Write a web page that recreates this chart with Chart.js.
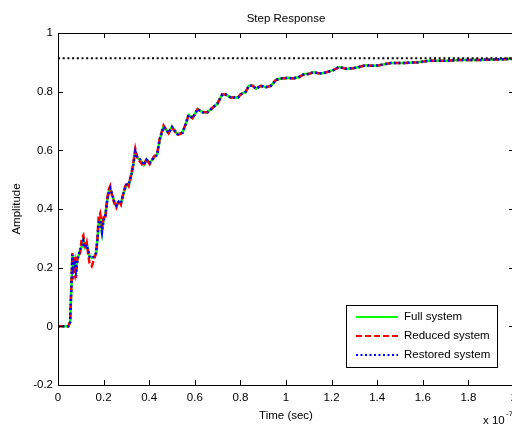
<!DOCTYPE html>
<html>
<head>
<meta charset="utf-8">
<script src="https://cdn.jsdelivr.net/npm/chart.js@4.4.1/dist/chart.umd.min.js"></script>
<style>
  html, body { margin: 0; padding: 0; background: #fff; overflow: hidden; }
  #wrap { width: 512px; height: 425px; overflow: hidden; }
</style>
</head>
<body>
<div id="wrap"><canvas id="chart-area" width="514" height="425"></canvas></div>

<script>
    // time axis in units of 1e-7 s
    var timeVals = [
        0, 0.045, 0.053, 0.060, 0.063, 0.067, 0.075, 0.079, 0.085, 0.097,
        0.104, 0.111, 0.119, 0.126, 0.138, 0.148, 0.159, 0.167, 0.173, 0.178,
        0.185, 0.193, 0.200, 0.207, 0.215, 0.222, 0.229, 0.237, 0.247, 0.256,
        0.266, 0.276, 0.288, 0.300, 0.310, 0.320, 0.329, 0.339, 0.349, 0.361,
        0.376, 0.388, 0.402, 0.420, 0.435, 0.446, 0.463, 0.485, 0.500, 0.524,
        0.546, 0.560, 0.573, 0.590, 0.612, 0.634, 0.656, 0.678, 0.700, 0.720,
        0.736, 0.758, 0.790, 0.800, 0.824, 0.837, 0.855, 0.868, 0.890, 0.912,
        0.934, 0.956, 0.978, 1.009, 1.030, 1.057, 1.080, 1.100, 1.120, 1.140,
        1.163, 1.185, 1.210, 1.233, 1.264, 1.295, 1.320, 1.350, 1.383, 1.410,
        1.460, 1.520, 1.580, 1.625, 1.700, 1.760, 1.850, 1.930, 2.000
    ];

    var fullSystem = [
        0, 0, 0.014, 0.160, 0.245, 0.205, 0.228, 0.195, 0.228, 0.260,
        0.270, 0.296, 0.270, 0.280, 0.240, 0.234, 0.238, 0.250, 0.296, 0.350,
        0.365, 0.320, 0.365, 0.375, 0.425, 0.455, 0.472, 0.450, 0.425, 0.410,
        0.425, 0.420, 0.455, 0.483, 0.483, 0.510, 0.545, 0.595, 0.574, 0.568,
        0.550, 0.568, 0.557, 0.574, 0.585, 0.636, 0.680, 0.660, 0.680, 0.655,
        0.660, 0.690, 0.720, 0.710, 0.740, 0.730, 0.730, 0.745, 0.760, 0.790,
        0.790, 0.780, 0.780, 0.790, 0.800, 0.820, 0.820, 0.810, 0.820, 0.815,
        0.820, 0.840, 0.845, 0.847, 0.845, 0.850, 0.860, 0.860, 0.867, 0.863,
        0.863, 0.868, 0.874, 0.884, 0.878, 0.880, 0.884, 0.890, 0.888, 0.890,
        0.898, 0.898, 0.900, 0.905, 0.905, 0.908, 0.908, 0.910, 0.912
    ];

    var reducedSystem = [
        0, 0, 0.014, 0.170, 0.250, 0.160, 0.240, 0.165, 0.235, 0.250,
        0.300, 0.310, 0.265, 0.285, 0.215, 0.205, 0.230, 0.250, 0.300, 0.370,
        0.385, 0.340, 0.370, 0.365, 0.430, 0.465, 0.478, 0.445, 0.420, 0.405,
        0.430, 0.415, 0.460, 0.490, 0.478, 0.515, 0.550, 0.605, 0.570, 0.560,
        0.545, 0.572, 0.553, 0.578, 0.590, 0.640, 0.685, 0.658, 0.678, 0.652,
        0.660, 0.690, 0.720, 0.710, 0.740, 0.730, 0.730, 0.745, 0.760, 0.790,
        0.790, 0.780, 0.780, 0.790, 0.800, 0.820, 0.820, 0.810, 0.820, 0.815,
        0.820, 0.840, 0.845, 0.847, 0.845, 0.850, 0.860, 0.860, 0.867, 0.863,
        0.863, 0.868, 0.874, 0.884, 0.878, 0.880, 0.884, 0.890, 0.888, 0.890,
        0.898, 0.898, 0.900, 0.905, 0.905, 0.908, 0.908, 0.910, 0.912
    ];

    var restoredSystem = [
        0, 0, 0.014, 0.160, 0.245, 0.200, 0.225, 0.190, 0.225, 0.262,
        0.272, 0.292, 0.268, 0.278, 0.238, 0.232, 0.238, 0.250, 0.296, 0.350,
        0.362, 0.322, 0.362, 0.375, 0.425, 0.455, 0.470, 0.452, 0.425, 0.412,
        0.425, 0.420, 0.455, 0.483, 0.483, 0.510, 0.545, 0.595, 0.574, 0.568,
        0.550, 0.568, 0.557, 0.574, 0.585, 0.636, 0.680, 0.660, 0.680, 0.655,
        0.660, 0.690, 0.720, 0.710, 0.740, 0.730, 0.730, 0.745, 0.760, 0.790,
        0.790, 0.780, 0.780, 0.790, 0.800, 0.820, 0.820, 0.810, 0.820, 0.815,
        0.820, 0.840, 0.845, 0.847, 0.845, 0.850, 0.860, 0.860, 0.867, 0.863,
        0.863, 0.868, 0.874, 0.884, 0.878, 0.880, 0.884, 0.890, 0.888, 0.890,
        0.898, 0.898, 0.900, 0.905, 0.905, 0.908, 0.908, 0.910, 0.912
    ];

    var steadyState = 0.914;
    var xRange = [0, 2];
    var yRange = [-0.2, 1];
    var tickStep = 0.2;
    var seriesNames = ['Full system', 'Reduced system', 'Restored system'];

    var FONT = '"Liberation Sans", Arial, sans-serif';

    var toPoints = function(ys) {
        return timeVals.map(function(t, i) { return { x: t, y: ys[i] }; });
    };

    // box, inward ticks, titles and legend (matlab style)
    var matlabAxes = {
        id: 'matlabAxes',
        afterDraw: function(chart) {
            var ctx = chart.ctx;
            var a = chart.chartArea;
            var xs = chart.scales.x, ys = chart.scales.y;
            ctx.save();
            ctx.strokeStyle = '#000';
            ctx.lineWidth = 1;
            ctx.beginPath();
            ctx.rect(Math.round(a.left) + 0.5, Math.round(a.top) + 0.5,
                     Math.round(a.right - a.left), Math.round(a.bottom - a.top));
            ctx.stroke();

            var tl = 5;
            ctx.beginPath();
            xs.ticks.forEach(function(t) {
                var px = Math.round(xs.getPixelForValue(t.value)) + 0.5;
                ctx.moveTo(px, a.bottom); ctx.lineTo(px, a.bottom - tl);
                ctx.moveTo(px, a.top); ctx.lineTo(px, a.top + tl);
            });
            ys.ticks.forEach(function(t) {
                var py = Math.round(ys.getPixelForValue(t.value)) + 0.5;
                ctx.moveTo(a.left, py); ctx.lineTo(a.left + tl, py);
                ctx.moveTo(a.right, py); ctx.lineTo(a.right - tl, py);
            });
            ctx.stroke();

            ctx.fillStyle = '#000';
            ctx.font = '11.5px ' + FONT;
            ctx.textAlign = 'center';
            ctx.textBaseline = 'middle';
            var cx = (a.left + 512) / 2 + 1;
            ctx.fillText('Step Response', cx, 19);
            ctx.fillText('Time (sec)', cx, 416);

            ctx.save();
            ctx.translate(17, (a.top + a.bottom) / 2);
            ctx.rotate(-Math.PI / 2);
            ctx.fillText('Amplitude', 0, 0);
            ctx.restore();

            ctx.textAlign = 'left';
            ctx.fillText('x 10', 483, 421);
            ctx.font = '8px ' + FONT;
            ctx.fillText('-7', 506, 414);

            // legend
            var bx = 346, by = Math.round(a.bottom) - 80;
            var bw = 151, bh = 62;
            ctx.fillStyle = '#fff';
            ctx.fillRect(bx, by, bw, bh);
            ctx.strokeStyle = '#000';
            ctx.lineWidth = 1;
            ctx.strokeRect(bx + 0.5, by + 0.5, bw, bh);
            ctx.font = '11.5px ' + FONT;
            ctx.textBaseline = 'middle';
            for (var i = 0; i < seriesNames.length; i++) {
                var ds = chart.data.datasets[i];
                var ry = by + 12 + i * 19;
                ctx.strokeStyle = ds.borderColor;
                ctx.lineWidth = 2;
                ctx.setLineDash(ds.borderDash || []);
                ctx.beginPath();
                ctx.moveTo(bx + 10, ry);
                ctx.lineTo(bx + 52, ry);
                ctx.stroke();
                ctx.setLineDash([]);
                ctx.fillStyle = '#000';
                ctx.fillText(seriesNames[i], bx + 58, ry);
            }
            ctx.restore();
        }
    };

    var config = {
        type: 'line',
        data: {
            datasets: [{
                label: seriesNames[0],
                data: toPoints(fullSystem),
                borderColor: 'rgb(0, 255, 0)',
                borderWidth: 2.5,
                order: 3
            }, {
                label: seriesNames[1],
                data: toPoints(reducedSystem),
                borderColor: 'rgb(255, 0, 0)',
                borderWidth: 2.5,
                borderDash: [6, 3],
                order: 2
            }, {
                label: seriesNames[2],
                data: toPoints(restoredSystem),
                borderColor: 'rgb(0, 0, 255)',
                borderWidth: 2.5,
                borderDash: [2, 2.5],
                order: 1
            }, {
                label: 'steady state',
                data: [{ x: xRange[0], y: steadyState }, { x: xRange[1], y: steadyState }],
                borderColor: '#000',
                borderWidth: 2,
                borderDash: [2, 2.7],
                order: 0
            }]
        },
        options: {
            responsive: false,
            animation: false,
            elements: {
                point: { radius: 0 },
                line: { tension: 0 }
            },
            layout: { padding: { top: 33, left: 0, right: 0, bottom: 0 } },
            plugins: {
                legend: { display: false },
                title: { display: false },
                tooltip: { enabled: false }
            },
            scales: {
                x: {
                    type: 'linear',
                    min: xRange[0],
                    max: xRange[1],
                    grid: { display: false, drawTicks: false },
                    border: { display: false },
                    ticks: {
                        stepSize: tickStep,
                        padding: 6,
                        color: '#000',
                        maxRotation: 0,
                        autoSkip: false,
                        font: { family: FONT, size: 11.5 },
                        callback: function(v) { return String(Math.round(v * 10) / 10); }
                    },
                    afterFit: function(s) {
                        s.height = 40;
                        s.paddingLeft = 0;
                        s.paddingRight = 0;
                    }
                },
                y: {
                    type: 'linear',
                    min: yRange[0],
                    max: yRange[1],
                    grid: { display: false, drawTicks: false },
                    border: { display: false },
                    ticks: {
                        stepSize: tickStep,
                        padding: 5,
                        color: '#000',
                        font: { family: FONT, size: 11.5 },
                        callback: function(v) { return String(Math.round(v * 10) / 10); }
                    },
                    afterFit: function(s) {
                        s.width = 58;
                        s.paddingTop = 0;
                        s.paddingBottom = 0;
                    }
                }
            }
        },
        plugins: [matlabAxes]
    };

    var ctx = document.getElementById('chart-area').getContext('2d');
    window.myLine = new Chart(ctx, config);
</script>
</body>
</html>
